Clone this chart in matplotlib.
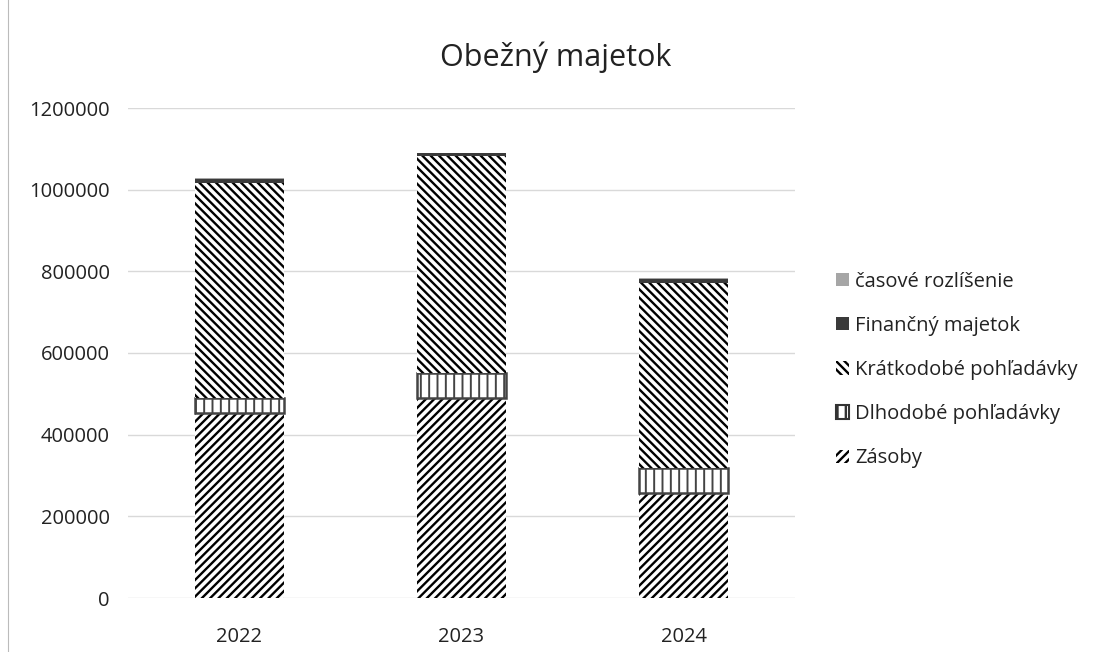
import matplotlib
matplotlib.use("Agg")
import matplotlib.pyplot as plt
from matplotlib.patches import Patch
import numpy as np

years = ["2022", "2023", "2024"]
zasoby = [454000, 491000, 257000]
dlhodobe = [37000, 60000, 61000]
kratkodobe = [525000, 531000, 453000]
financny = [10000, 8000, 10000]
casove = [1500, 1000, 2000]
yticks = [0, 200000, 400000, 600000, 800000, 1000000, 1200000]

plt.rcParams['font.family'] = ['Open Sans', 'DejaVu Sans']
plt.rcParams['hatch.linewidth'] = 1.7

fig = plt.figure(figsize=(10.94, 6.52), dpi=100)
ax = fig.add_axes([128/1094, 54/652, (795-128)/1094, (598-108)/652])

x = np.arange(len(years))
w = 0.4
b1 = np.array(zasoby)
b2 = b1 + np.array(dlhodobe)
b3 = b2 + np.array(kratkodobe)
b4 = b3 + np.array(financny)

ax.bar(x, zasoby, w, color='white', edgecolor='black', hatch='////', linewidth=0, zorder=3)
bd = ax.bar(x, dlhodobe, w, bottom=b1, color='white', edgecolor='#444444', hatch='||', linewidth=1.8, zorder=3)
for p in bd:
    try:
        p.set_hatch_linewidth(1.4)
    except Exception:
        pass
ax.bar(x, kratkodobe, w, bottom=b2, color='white', edgecolor='black', hatch='\\\\\\\\', linewidth=0, zorder=3)
ax.bar(x, financny, w, bottom=b3, color='#3a3a3a', linewidth=0, zorder=3)
ax.bar(x, casove, w, bottom=b4, color='#a6a6a6', linewidth=0, zorder=3)

ax.set_xlim(-0.5, 2.5)
ax.set_ylim(0, 1200000)
ax.set_yticks(yticks)
ax.set_yticklabels([str(v) for v in yticks])
ax.set_xticks(x)
ax.set_xticklabels(years)
ax.grid(axis='y', color='#d9d9d9', linewidth=1, zorder=0)
for s in ax.spines.values():
    s.set_visible(False)
ax.tick_params(axis='both', length=0, labelsize=14.5, colors='#222222')
ax.tick_params(axis='y', pad=13)
ax.tick_params(axis='x', pad=21)

fig.text(0.508, 0.912, "Obežný majetok", ha='center', va='center', fontsize=22, color='#222222')

handles = [
    Patch(facecolor='#a6a6a6', edgecolor='none', label='časové rozlíšenie'),
    Patch(facecolor='#3a3a3a', edgecolor='none', label='Finančný majetok'),
    Patch(facecolor='white', edgecolor='black', hatch='\\\\\\\\', linewidth=0, label='Krátkodobé pohľadávky'),
    Patch(facecolor='white', edgecolor='#333333', hatch='||', linewidth=1.5, label='Dlhodobé pohľadávky'),
    Patch(facecolor='white', edgecolor='black', hatch='////', linewidth=0, label='Zásoby'),
]
leg = fig.legend(handles=handles, loc='center left', bbox_to_anchor=(818/1094, (652-370)/652),
                 frameon=False, fontsize=14.5, handlelength=0.65, handleheight=0.65,
                 handletextpad=0.3, labelspacing=1.2, labelcolor='#222222')

fig.add_artist(plt.Line2D([8/1094, 8/1094], [0.0, 1.0], color='#bbbbbb', linewidth=0.8))

fig.savefig("out.png", dpi=100)
